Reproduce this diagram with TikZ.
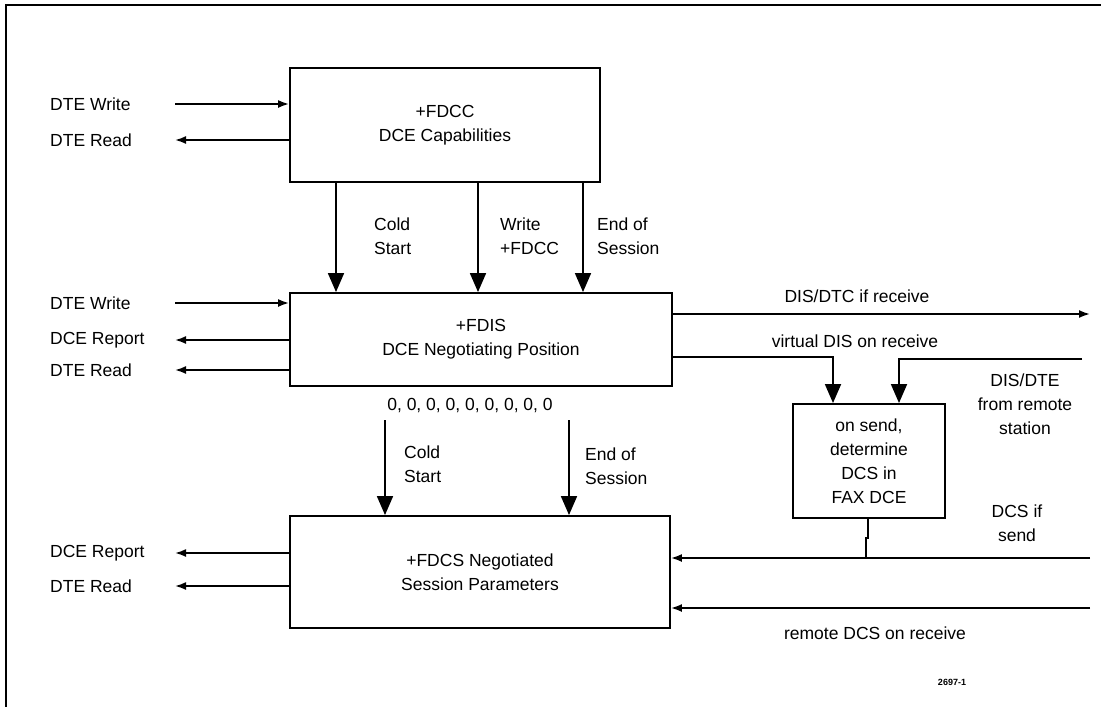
\documentclass[tikz,border=0pt]{standalone}
\usepackage{fontspec}
\setmainfont{Liberation Sans}
\usetikzlibrary{arrows.meta}
\begin{document}
\begin{tikzpicture}[x=1pt,y=-1pt,
  box/.style={draw,line width=1.9pt,inner sep=0pt,font=\fontsize{17.5}{24}\selectfont,align=center},
  lbl/.style={font=\fontsize{17.5}{24}\selectfont,inner sep=0pt,align=left},
  clbl/.style={font=\fontsize{17.5}{24}\selectfont,inner sep=0pt,align=center},
  conn/.style={line width=1.8pt},
  harr/.style={conn,-{Latex[length=11pt,width=8pt]}},
  varr/.style={conn,-{Triangle[length=19pt,width=16pt]}},
]
\useasboundingbox (0,0) rectangle (1101,707);
\draw[line width=2.5pt] (6,707) -- (6,5) -- (1101,5);

% boxes
\node[box,minimum width=310pt,minimum height=114pt] (b1) at (445,125) {+FDCC\\DCE Capabilities};
\node[box,minimum width=382pt,minimum height=93pt] (b2) at (481,339.5) {+FDIS\\DCE Negotiating Position};
\node[box,minimum width=380pt,minimum height=112pt] (b3) at (480,572) {+FDCS Negotiated\\Session Parameters};
\node[box,minimum width=152pt,minimum height=114pt] (b4) at (869,461) {on send,\\determine\\DCS in\\FAX DCE};

% left side of box1
\node[lbl,anchor=west] (l1) at (50,104) {DTE Write};
\node[lbl,anchor=west] (l2) at (50,140) {DTE Read};
\coordinate (c1) at (175,104);
\coordinate (c2) at (175,140);
\draw[harr] (c1) -- (c1 -| b1.west);
\draw[harr] (c2 -| b1.west) -- (c2);

% left side of box2
\node[lbl,anchor=west] (l3) at (50,303) {DTE Write};
\node[lbl,anchor=west] (l4) at (50,340) {DCE Report};
\node[lbl,anchor=west] (l5) at (50,370) {DTE Read};
\coordinate (c3) at (175,303);
\coordinate (c4) at (175,340);
\coordinate (c5) at (175,370);
\draw[harr] (c3) -- (c3 -| b2.west);
\draw[harr] (c4 -| b2.west) -- (c4);
\draw[harr] (c5 -| b2.west) -- (c5);

% left side of box3
\node[lbl,anchor=west] (l6) at (50,553) {DCE Report};
\node[lbl,anchor=west] (l7) at (50,586) {DTE Read};
\coordinate (c6) at (175,553);
\coordinate (c7) at (175,586);
\draw[harr] (c6 -| b3.west) -- (c6);
\draw[harr] (c7 -| b3.west) -- (c7);

% box1 -> box2
\coordinate (v1) at (336,0);
\coordinate (v2) at (478,0);
\coordinate (v3) at (583,0);
\draw[varr] (v1 |- b1.south) -- (v1 |- b2.north);
\draw[varr] (v2 |- b1.south) -- (v2 |- b2.north);
\draw[varr] (v3 |- b1.south) -- (v3 |- b2.north);
\node[lbl,anchor=west] (t1) at (374,236) {Cold\\Start};
\node[lbl,anchor=west] (t2) at (500,236) {Write\\+FDCC};
\node[lbl,anchor=west] (t3) at (597,236) {End of\\Session};

% zeros
\node[clbl] (z) at (470,406) {0, 0, 0, 0, 0, 0, 0, 0, 0};
\coordinate (v4) at (385,420);
\coordinate (v5) at (569,420);
\draw[varr] (v4) -- (v4 |- b3.north);
\draw[varr] (v5) -- (v5 |- b3.north);
\node[lbl,anchor=west] (t4) at (404,464) {Cold\\Start};
\node[lbl,anchor=west] (t5) at (585,466) {End of\\Session};

% right side
\coordinate (r1) at (1090,314);
\draw[harr] (r1 -| b2.east) -- (r1);
\node[clbl] (t6) at (857,296) {DIS/DTC if receive};

\coordinate (r2) at (833,357);
\draw[varr] (r2 -| b2.east) -- (r2) -- (r2 |- b4.north);
\node[clbl] (t7) at (855,341) {virtual DIS on receive};

\coordinate (r3) at (1082,359);
\coordinate (r3b) at (899,359);
\draw[varr] (r3) -- (r3b) -- (r3b |- b4.north);
\node[clbl] (t8) at (1025,404) {DIS/DTE\\from remote\\station};

\coordinate (r4) at (1090,558);
\draw[harr] (r4) -- (r4 -| b3.east);
\coordinate (j1) at (868,538);
\coordinate (j2) at (866,538);
\draw[conn] (b4.south -| j1) -- (j1) -- (j2) -- (j2 |- r4);
\node[clbl] (t9) at (1017,523) {DCS if\\send};

\coordinate (r5) at (1090,608);
\draw[harr] (r5) -- (r5 -| b3.east);
\node[clbl] (t10) at (875,633) {remote DCS on receive};

\node[clbl,font=\fontsize{9}{10}\selectfont\bfseries] (fig) at (952,682) {2697-1};
\end{tikzpicture}
\end{document}
